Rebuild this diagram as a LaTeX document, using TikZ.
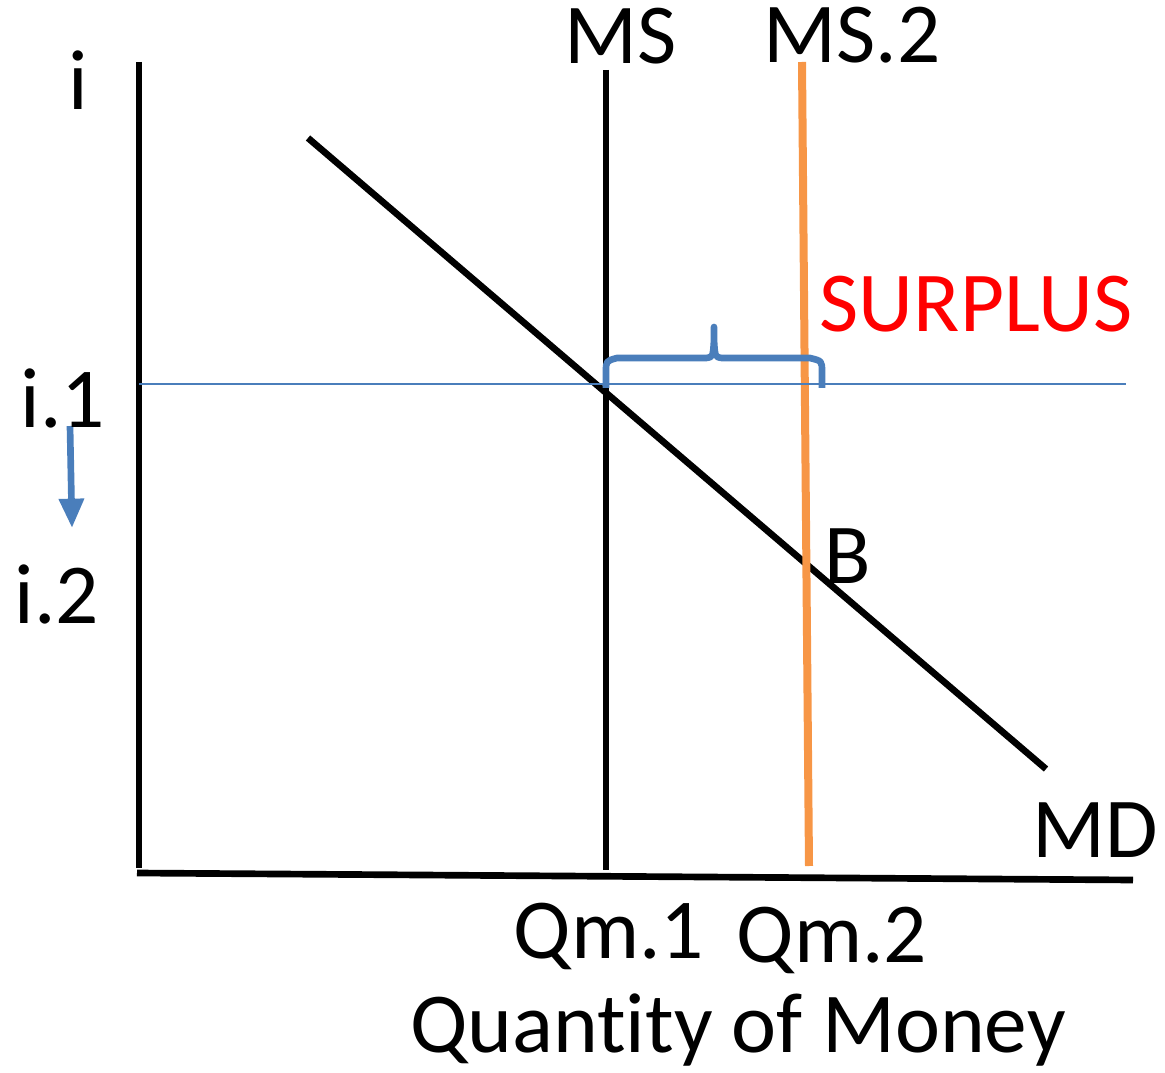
\documentclass[tikz,border=0pt]{standalone}
\usepackage{fontspec}
\setmainfont[Ligatures=NoCommon]{Carlito}
\usetikzlibrary{arrows.meta}
\definecolor{axisblue}{HTML}{4A7EBB}
\definecolor{msorange}{HTML}{F79646}
\begin{document}
\begin{tikzpicture}[x=0.75pt,y=-0.75pt,
  blk/.style={line width=5pt,black},
  lbl/.style={anchor=base,inner sep=0pt,font=\fontsize{64}{72}\selectfont}]
\useasboundingbox (0,0) rectangle (1165,1073);
% axes
\coordinate (ytop) at (139,62);
\coordinate (ybot) at (139,868);
\coordinate (xl) at (137,873);
\coordinate (xr) at (1133,880);
\draw[blk] (ytop) -- (ybot);
\draw[blk] (xl) -- (xr);
% MD
\coordinate (mda) at (308,138);
\coordinate (mdb) at (1046,769);
\draw[blk] (mda) -- (mdb);
% MS
\coordinate (msa) at (606,70);
\coordinate (msb) at (606,870);
\draw[blk] (msa) -- (msb);
% MS.2
\coordinate (ms2a) at (802,62);
\coordinate (ms2b) at (809,866);
\draw[line width=6pt,msorange] (ms2a) -- (ms2b);
% i.1 line
\coordinate (ha) at (139,384);
\coordinate (hb) at (1126,384);
\draw[line width=1.5pt,axisblue] (ha) -- (hb);
% brace
\draw[line width=5pt,axisblue,line join=round]
  (606,388) -- (606,372) .. controls (606,361) .. (617,358)
  -- (706,358) .. controls (713,357) .. (714,340) -- (714,327)
  -- (714,340) .. controls (715,357) .. (722,358)
  -- (810,358) .. controls (822,361) .. (822,372) -- (822,388);
% arrow
\coordinate (arra) at (70,426);
\coordinate (arrb) at (72,528);
\draw[line width=5pt,axisblue,-{Triangle[length=22pt,width=18pt]}] (arra) -- (arrb);
% labels
\node[lbl] (li) at (78,110) {i};
\node[lbl] (lms) at (621,64) {MS};
\node[lbl] (lms2) at (852,63) {MS.2};
\node[lbl,text=red] (lsur) at (976,332) {SURPLUS};
\node[lbl] (li1) at (63,428) {i.1};
\node[lbl] (li2) at (57,623) {i.2};
\node[lbl,anchor=base west] (lb) at (824,583) {B};
\node[lbl] (lmd) at (1095,857) {MD};
\node[lbl] (lq1) at (609,958) {Qm.1};
\node[lbl] (lq2) at (832,962) {Qm.2};
\node[lbl] (lqm) at (738,1052) {Quantity of Money};
\end{tikzpicture}
\end{document}
